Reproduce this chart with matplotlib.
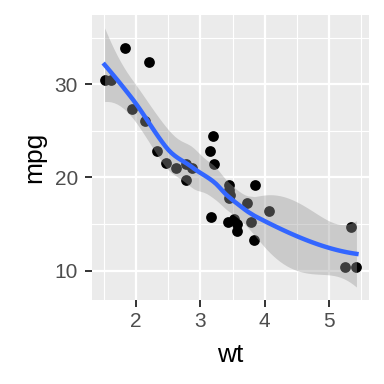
import numpy as np
import matplotlib
matplotlib.use("Agg")
import matplotlib.pyplot as plt
from matplotlib.ticker import MultipleLocator

# mtcars: weight (1000 lbs) and miles per gallon
wt = [2.620, 2.875, 2.320, 3.215, 3.440, 3.460, 3.570, 3.190, 3.150, 3.440, 3.440,
      4.070, 3.730, 3.780, 5.250, 5.424, 5.345, 2.200, 1.615, 1.835, 2.465, 3.520,
      3.435, 3.840, 3.845, 1.935, 2.140, 1.513, 3.170, 2.770, 3.570, 2.780]
mpg = [21.0, 21.0, 22.8, 21.4, 18.7, 18.1, 14.3, 24.4, 22.8, 19.2, 17.8,
       16.4, 17.3, 15.2, 10.4, 10.4, 14.7, 32.4, 30.4, 33.9, 21.5, 15.5,
       15.2, 13.3, 19.2, 27.3, 26.0, 30.4, 15.8, 19.7, 15.0, 21.4]

x_ticks = [2, 3, 4, 5]
y_ticks = [10, 20, 30]

SPAN = 0.75
CELL = 0.2
T_CRIT = 2.06  # approx t(0.975) for the loess residual df


def local_rows(x, x0):
    # local quadratic fit with tricube weights -> rows for value and slope
    n = len(x)
    q = int(np.floor(n * SPAN))
    d = np.abs(x - x0)
    h = np.sort(d)[q - 1]
    u = np.clip(d / h, 0, 1)
    w = (1 - u ** 3) ** 3
    X = np.column_stack([np.ones(n), x - x0, (x - x0) ** 2])
    XtW = X.T * w
    A = np.linalg.solve(XtW @ X, XtW)
    return A[0], A[1]


def kd_vertices(xs):
    # 1-d version of loess' kd tree: split cells at the median
    fc = int(np.floor(len(xs) * SPAN * CELL))
    rng = xs[-1] - xs[0]
    verts = {xs[0] - 0.005 * rng, xs[-1] + 0.005 * rng}

    def split(l, u, lo, hi):
        if u - l + 1 <= fc:
            return
        m = (l + u) // 2
        while m > l and xs[m - 1] == xs[m]:
            m -= 1
        v = xs[m]
        if v == lo or v == hi:
            return
        verts.add(v)
        split(l, m, lo, v)
        split(m + 1, u, v, hi)

    split(0, len(xs) - 1, min(verts), max(verts))
    return np.array(sorted(verts))


def loess_operator(x, pts, verts, vrows, srows):
    # cubic hermite interpolation of the vertex fits
    out = []
    for p in pts:
        i = min(max(np.searchsorted(verts, p) - 1, 0), len(verts) - 2)
        v0, v1 = verts[i], verts[i + 1]
        hh = v1 - v0
        t = (p - v0) / hh
        h00 = 2 * t ** 3 - 3 * t ** 2 + 1
        h10 = t ** 3 - 2 * t ** 2 + t
        h01 = -2 * t ** 3 + 3 * t ** 2
        h11 = t ** 3 - t ** 2
        out.append(h00 * vrows[i] + h10 * hh * srows[i]
                   + h01 * vrows[i + 1] + h11 * hh * srows[i + 1])
    return np.array(out)


def loess_fit(x, y, grid):
    x = np.asarray(x, float)
    y = np.asarray(y, float)
    verts = kd_vertices(np.sort(x))
    rows = [local_rows(x, v) for v in verts]
    vrows = np.array([r[0] for r in rows])
    srows = np.array([r[1] for r in rows])
    L = loess_operator(x, x, verts, vrows, srows)
    R = np.eye(len(x)) - L
    d1 = np.trace(R.T @ R)
    sigma = np.sqrt(np.sum((R @ y) ** 2) / d1)
    G = loess_operator(x, grid, verts, vrows, srows)
    fit = G @ y
    se = sigma * np.sqrt(np.sum(G ** 2, axis=1))
    return fit, fit - T_CRIT * se, fit + T_CRIT * se


grid = np.linspace(min(wt), max(wt), 80)
fit, lo, hi = loess_fit(wt, mpg, grid)

fig = plt.figure(figsize=(3.84, 3.84), dpi=100)
ax = fig.add_axes([0.2396, 0.2188, 0.7214, 0.7422])
ax.set_facecolor("#EBEBEB")

ax.scatter(wt, mpg, s=60, color="black", linewidths=0, zorder=3)
ax.fill_between(grid, lo, hi, color="#999999", alpha=0.4, linewidth=0, zorder=4)
ax.plot(grid, fit, color="#3366FF", lw=3.2, zorder=5)

xr = max(wt) - min(wt)
ax.set_xlim(min(wt) - 0.05 * xr, max(wt) + 0.05 * xr)
ymin = min(min(mpg), lo.min())
ymax = max(max(mpg), hi.max())
yr = ymax - ymin
ax.set_ylim(ymin - 0.05 * yr, ymax + 0.05 * yr)

ax.set_xticks(x_ticks)
ax.set_yticks(y_ticks)
ax.xaxis.set_minor_locator(MultipleLocator(0.5))
ax.yaxis.set_minor_locator(MultipleLocator(5))
ax.grid(which="major", color="white", lw=1.6)
ax.grid(which="minor", color="white", lw=0.8)
ax.set_axisbelow(True)
for s in ax.spines.values():
    s.set_visible(False)

ax.tick_params(which="major", length=5, width=1.4, color="#333333",
               labelsize=15, labelcolor="#4D4D4D")
ax.tick_params(axis="x", which="major", pad=4)
ax.tick_params(axis="y", which="major", pad=5)
ax.tick_params(which="minor", length=0)
for lab in ax.get_xticklabels() + ax.get_yticklabels():
    lab.set_family("Liberation Sans")

ax.set_xlabel("wt", fontsize=19, family="Liberation Sans", labelpad=8)
ax.set_ylabel("mpg", fontsize=19, family="Liberation Sans", labelpad=6)

fig.savefig("out.png", dpi=100, facecolor="white")
